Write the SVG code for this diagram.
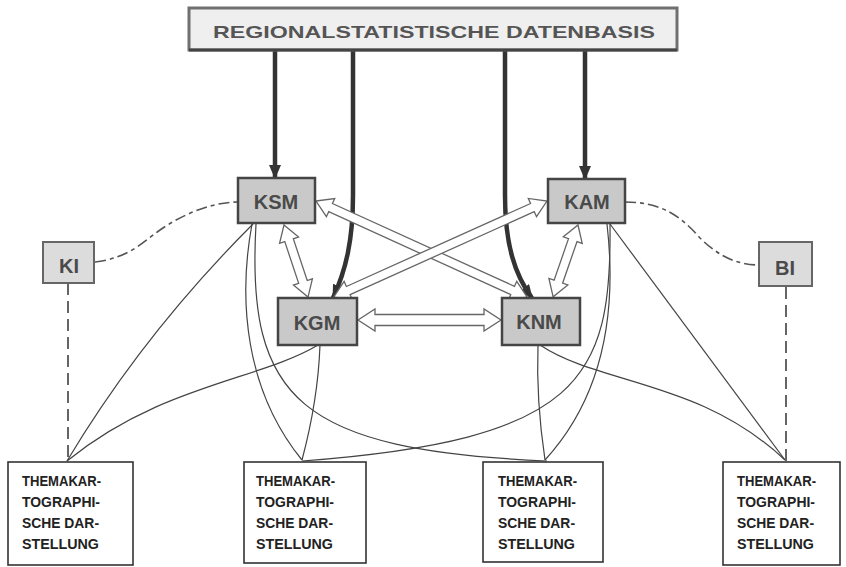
<svg xmlns="http://www.w3.org/2000/svg" width="846" height="567" viewBox="0 0 846 567">
<defs>
<marker id="thickHead" markerUnits="userSpaceOnUse" viewBox="0 0 14 12" refX="13" refY="6" markerWidth="14" markerHeight="12" orient="auto">
<path d="M0,0 L14,6 L0,12 Z" fill="#333"/>
</marker>
</defs>
<style>
.model rect{fill:#c9c9c9;stroke:#454545;stroke-width:2.5}
.model text{font-family:"Liberation Sans",Arial,sans-serif;font-weight:bold;font-size:20px;fill:#4a4a4a;text-anchor:middle}
.aux rect{fill:#dcdcdc;stroke:#666;stroke-width:2}
.aux text{font-family:"Liberation Sans",Arial,sans-serif;font-weight:bold;font-size:20px;fill:#4a4a4a;text-anchor:middle}
.out rect{fill:#fff;stroke:#333;stroke-width:1.6}
.out text{font-family:"Liberation Sans",Arial,sans-serif;font-weight:bold;font-size:15px;fill:#222}
.thick{fill:none;stroke:#333;stroke-width:4.5;marker-end:url(#thickHead)}
.thin{fill:none;stroke:#444;stroke-width:1.2}
.dash{fill:none;stroke:#555;stroke-width:1.6;stroke-dasharray:11 4 4 4}
.vdash{fill:none;stroke:#555;stroke-width:1.8;stroke-dasharray:12 6}
.hollow{fill:#fff;stroke:#666;stroke-width:1.3;stroke-linejoin:miter}
</style>
<rect width="846" height="567" fill="#fff"/>

<g id="connectors">
<path class="thin" d="M253,224 Q143,334 67,461"/>
<path class="thin" d="M318,345 C260,380 160,385 67,461"/>
<path class="thin" d="M252,224 C238,300 245,390 302,460"/>
<path class="thin" d="M256,224 C246,400 300,450 547,461"/>
<path class="thin" d="M320,345 Q318,400 302,460"/>
<path class="thin" d="M610,224 C612,380 580,440 302,461"/>
<path class="thin" d="M607,224 C618,320 600,400 545,460"/>
<path class="thin" d="M538,345 Q536,400 545,460"/>
<path class="thin" d="M540,345 C600,385 700,380 785,460"/>
<path class="thin" d="M610,224 L785,460"/>
<path class="dash" d="M95,262 C130,258 145,240 160,230 C180,216 210,202 238,202"/>
<path class="dash" d="M625,202 C660,202 680,215 700,238 C720,258 740,265 759,265"/>
<path class="vdash" d="M68,283 L68,461"/>
<path class="vdash" d="M786,287 L786,461"/>
<path class="thick" d="M275,51 L275,178"/>
<path class="thick" d="M585,51 L585,179"/>
<path class="thick" d="M353,51 L353,195 C353,240 346,270 333,298"/>
<path class="thick" d="M505,51 L505,195 C505,245 515,275 532,298"/>
<path class="hollow" transform="translate(284,225) rotate(71.6)" d="M0,0 L16,-10 L16,-4.5 L60,-4.5 L60,-10 L76,0 L60,10 L60,4.5 L16,4.5 L16,10 Z"/>
<path class="hollow" transform="translate(578,225) rotate(109.1)" d="M0,0 L16,-10 L16,-4.5 L60,-4.5 L60,-10 L76,0 L60,10 L60,4.5 L16,4.5 L16,10 Z"/>
<path class="hollow" transform="translate(358,320)" d="M0,0 L17,-11 L17,-5.5 L126,-5.5 L126,-11 L143,0 L126,11 L126,5.5 L17,5.5 L17,11 Z"/>
<path class="hollow" transform="translate(316,201) rotate(24.46)" d="M0,0 L16,-10 L16,-4.5 L216,-4.5 L216,-10 L232,0 L216,10 L216,4.5 L16,4.5 L16,10 Z"/>
<path class="hollow" transform="translate(547,201) rotate(155.74)" d="M0,0 L16,-10 L16,-4.5 L218,-4.5 L218,-10 L234,0 L218,10 L218,4.5 L16,4.5 L16,10 Z"/>
</g>

<g id="datenbasis">
<rect x="189" y="8" width="488" height="42" fill="#efefef" stroke="#707070" stroke-width="3"/>
<line x1="189" y1="50" x2="677" y2="50" stroke="#444" stroke-width="3"/>
<text x="213" y="38" textLength="442" lengthAdjust="spacingAndGlyphs" font-family="'Liberation Sans',Arial,sans-serif" font-weight="bold" font-size="17" fill="#555">REGIONALSTATISTISCHE DATENBASIS</text>
</g>

<g id="KSM" class="model"><rect x="238" y="178" width="77" height="45"/><text x="276" y="209">KSM</text></g>
<g id="KAM" class="model"><rect x="548" y="179" width="77" height="44"/><text x="587" y="209">KAM</text></g>
<g id="KGM" class="model"><rect x="278" y="298" width="79" height="47"/><text x="317" y="330">KGM</text></g>
<g id="KNM" class="model"><rect x="502" y="298" width="78" height="47"/><text x="539" y="329">KNM</text></g>

<g id="KI" class="aux"><rect x="43" y="242" width="51" height="41"/><text x="69" y="273">KI</text></g>
<g id="BI" class="aux"><rect x="759" y="242" width="53" height="44"/><text x="785" y="275">BI</text></g>

<g id="out1" class="out"><rect x="8" y="462" width="125" height="103"/>
<text x="22" y="486" textLength="79" lengthAdjust="spacingAndGlyphs">THEMAKAR-</text><text x="22" y="507" textLength="78" lengthAdjust="spacingAndGlyphs">TOGRAPHI-</text><text x="22" y="528" textLength="77" lengthAdjust="spacingAndGlyphs">SCHE DAR-</text><text x="22" y="549" textLength="77" lengthAdjust="spacingAndGlyphs">STELLUNG</text></g>
<g id="out2" class="out"><rect x="244" y="462" width="122" height="101"/>
<text x="256" y="486" textLength="79" lengthAdjust="spacingAndGlyphs">THEMAKAR-</text><text x="256" y="507" textLength="78" lengthAdjust="spacingAndGlyphs">TOGRAPHI-</text><text x="256" y="528" textLength="77" lengthAdjust="spacingAndGlyphs">SCHE DAR-</text><text x="256" y="549" textLength="77" lengthAdjust="spacingAndGlyphs">STELLUNG</text></g>
<g id="out3" class="out"><rect x="483" y="462" width="120" height="100"/>
<text x="498" y="486" textLength="79" lengthAdjust="spacingAndGlyphs">THEMAKAR-</text><text x="498" y="507" textLength="78" lengthAdjust="spacingAndGlyphs">TOGRAPHI-</text><text x="498" y="528" textLength="77" lengthAdjust="spacingAndGlyphs">SCHE DAR-</text><text x="498" y="549" textLength="77" lengthAdjust="spacingAndGlyphs">STELLUNG</text></g>
<g id="out4" class="out"><rect x="723" y="462" width="117" height="103"/>
<text x="737" y="486" textLength="79" lengthAdjust="spacingAndGlyphs">THEMAKAR-</text><text x="737" y="507" textLength="78" lengthAdjust="spacingAndGlyphs">TOGRAPHI-</text><text x="737" y="528" textLength="77" lengthAdjust="spacingAndGlyphs">SCHE DAR-</text><text x="737" y="549" textLength="77" lengthAdjust="spacingAndGlyphs">STELLUNG</text></g>
</svg>
